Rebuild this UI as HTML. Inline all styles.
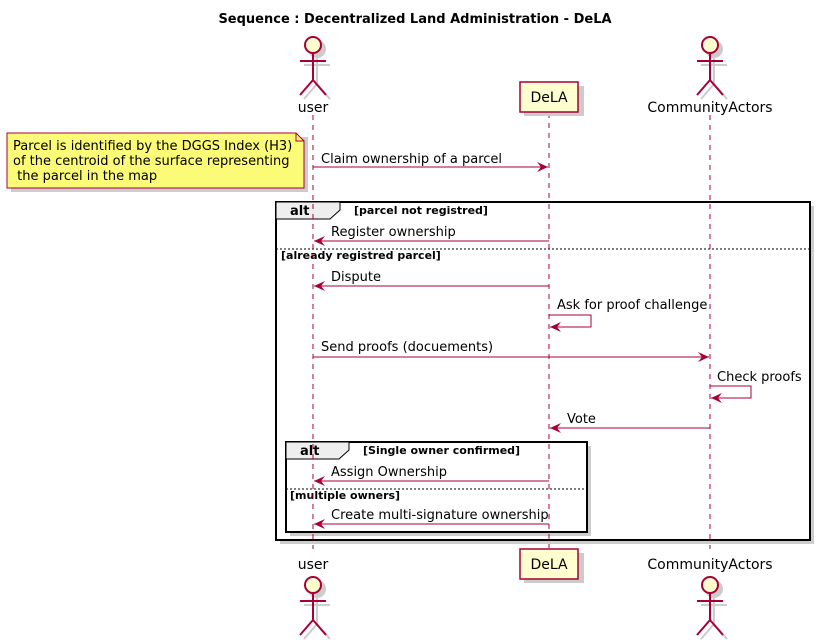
<!DOCTYPE html>
<html><head><meta charset="utf-8"><style>body{margin:0;background:#fff}svg{display:block}</style></head><body>
<svg width="822" height="643" xmlns="http://www.w3.org/2000/svg" font-family="DejaVu Sans, sans-serif">
<defs>
<marker id="a" markerWidth="12" markerHeight="10" refX="11" refY="5" orient="auto" markerUnits="userSpaceOnUse"><path d="M0,0 L11,5 L0,10 L4,5 Z" fill="#A80036"/></marker>
</defs>
<text x="415" y="23" text-anchor="middle" font-size="13" font-weight="bold">Sequence : Decentralized Land Administration - DeLA</text>
<g stroke="#A80036" stroke-dasharray="5,5" stroke-width="1">
<line x1="313" y1="115" x2="313" y2="549"/><line x1="549" y1="113" x2="549" y2="549"/><line x1="710" y1="115" x2="710" y2="549"/>
</g>
<g stroke="#ccc" stroke-width="2" fill="#ccc">
<g transform="translate(317,49)"><circle r="8"/><path d="M0,8V35M-13,16H13M0,35L-13,50M0,35L13,50" fill="none"/></g>
<g transform="translate(714,49)"><circle r="8"/><path d="M0,8V35M-13,16H13M0,35L-13,50M0,35L13,50" fill="none"/></g>
<g transform="translate(317,589)"><circle r="8"/><path d="M0,8V35M-13,16H13M0,35L-13,50M0,35L13,50" fill="none"/></g>
<g transform="translate(714,589)"><circle r="8"/><path d="M0,8V35M-13,16H13M0,35L-13,50M0,35L13,50" fill="none"/></g>
</g>
<g stroke="#A80036" stroke-width="2" fill="#FEFECE">
<g transform="translate(313,45)"><circle r="8"/><path d="M0,8V35M-13,16H13M0,35L-13,50M0,35L13,50" fill="none"/></g>
<g transform="translate(710,45)"><circle r="8"/><path d="M0,8V35M-13,16H13M0,35L-13,50M0,35L13,50" fill="none"/></g>
<g transform="translate(313,585)"><circle r="8"/><path d="M0,8V35M-13,16H13M0,35L-13,50M0,35L13,50" fill="none"/></g>
<g transform="translate(710,585)"><circle r="8"/><path d="M0,8V35M-13,16H13M0,35L-13,50M0,35L13,50" fill="none"/></g>
</g>
<g font-size="14" text-anchor="middle"><text x="313" y="112">user</text><text x="710" y="112">CommunityActors</text><text x="313" y="569">user</text><text x="710" y="569">CommunityActors</text></g>
<rect x="524" y="86" width="60" height="30" fill="#ccc"/>
<rect x="520" y="82" width="58" height="30" fill="#FEFECE" stroke="#A80036" stroke-width="1.5"/>
<text x="549" y="102" font-size="14" text-anchor="middle">DeLA</text>
<rect x="524" y="553" width="60" height="30" fill="#ccc"/>
<rect x="520" y="549" width="58" height="30" fill="#FEFECE" stroke="#A80036" stroke-width="1.5"/>
<text x="549" y="569" font-size="14" text-anchor="middle">DeLA</text>
<path d="M11,137 H308 V192 H11 Z" fill="#ccc"/>
<path d="M7,133 H296 L304,141 V188 H7 Z" fill="#FBFB77" stroke="#A80036" stroke-width="1"/>
<path d="M296,133 V141 H304" fill="none" stroke="#A80036"/>
<g font-size="13"><text x="13" y="150">Parcel is identified by the DGGS Index (H3)</text><text x="13" y="165">of the centroid of the surface representing</text><text x="13" y="180">&#160;the parcel in the map</text></g>
<rect x="280" y="206" width="534" height="338" fill="#ccc"/>
<rect x="276" y="202" width="534" height="338" fill="#fff" stroke="#000" stroke-width="2"/>
<path d="M276,202 H340 V210 L330,219 H276 Z" fill="#EEE" stroke="#000" stroke-width="1"/>
<text x="290" y="215" font-size="13" font-weight="bold">alt</text>
<text x="354" y="214" font-size="11" font-weight="bold">[parcel not registred]</text>
<line x1="276" y1="249" x2="810" y2="249" stroke="#000" stroke-dasharray="2,2"/>
<text x="281" y="259" font-size="11" font-weight="bold">[already registred parcel]</text>
<rect x="290" y="446" width="301" height="90" fill="#ccc"/>
<rect x="286" y="442" width="301" height="90" fill="#fff" stroke="#000" stroke-width="2"/>
<path d="M286,442 H349 V450 L339,459 H286 Z" fill="#EEE" stroke="#000" stroke-width="1"/>
<text x="300" y="455" font-size="13" font-weight="bold">alt</text>
<text x="363" y="454" font-size="11" font-weight="bold">[Single owner confirmed]</text>
<line x1="286" y1="489" x2="587" y2="489" stroke="#000" stroke-dasharray="2,2"/>
<text x="290" y="499" font-size="11" font-weight="bold">[multiple owners]</text>
<g stroke="#A80036" stroke-dasharray="5,5" stroke-width="1">
<line x1="313" y1="204" x2="313" y2="539"/><line x1="549" y1="204" x2="549" y2="539"/><line x1="710" y1="204" x2="710" y2="539"/>
</g>
<g stroke="#A80036" stroke-width="1" fill="none" marker-end="url(#a)">
<line x1="313" y1="167" x2="548" y2="167"/>
<line x1="549" y1="241" x2="314" y2="241"/>
<line x1="549" y1="286" x2="314" y2="286"/>
<polyline points="549,315 591,315 591,327 550,327"/>
<line x1="313" y1="357" x2="709" y2="357"/>
<polyline points="710,386 751,386 751,398 711,398"/>
<line x1="710" y1="428" x2="550" y2="428"/>
<line x1="549" y1="481" x2="314" y2="481"/>
<line x1="549" y1="524" x2="314" y2="524"/>
</g>
<g font-size="13">
<text x="321" y="163">Claim ownership of a parcel</text>
<text x="331" y="236">Register ownership</text>
<text x="331" y="281">Dispute</text>
<text x="557" y="309">Ask for proof challenge</text>
<text x="321" y="351">Send proofs (docuements)</text>
<text x="717" y="381">Check proofs</text>
<text x="567" y="423">Vote</text>
<text x="331" y="476">Assign Ownership</text>
<text x="331" y="519">Create multi-signature ownership</text>
</g>
</svg>
</body></html>
